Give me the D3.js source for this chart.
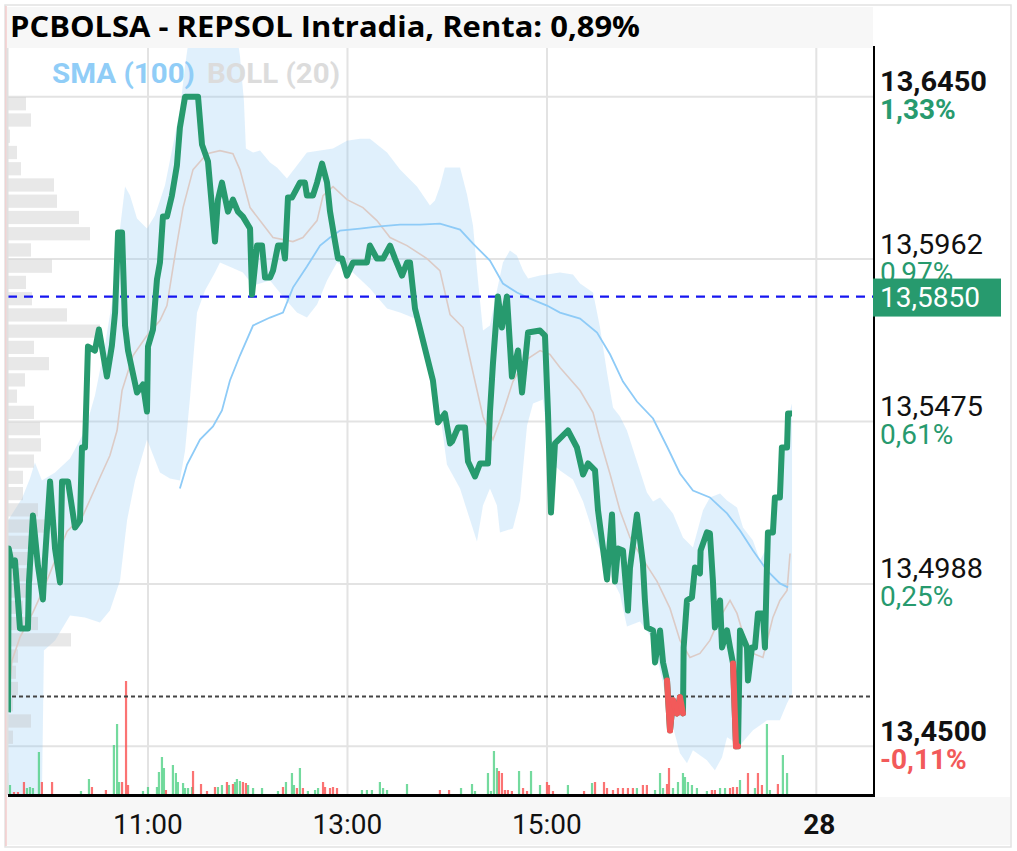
<!DOCTYPE html>
<html><head><meta charset="utf-8">
<script src="https://cdn.jsdelivr.net/npm/d3@7"></script>
<style>body{margin:0;background:#fff}svg{display:block}</style>
</head><body><svg id="c" width="1017" height="851"></svg>
<script>
// ---------- DATA ----------
const title = "PCBOLSA - REPSOL Intradia, Renta: 0,89%";
const prevClose = 13.465;
const markPrice = 13.585;
const markLabel = "13,5850";
const priceTicks = [13.645, 13.59625, 13.5475, 13.49875, 13.45];
const priceTickLabels = ["13,6450", "13,5962", "13,5475", "13,4988", "13,4500"];
const pctTickLabels = ["1,33%", "0,97%", "0,61%", "0,25%", "-0,11%"];
const pctTickUp = [true, true, true, true, false];
const boldTicks = [true, false, false, false, true];
// time in minutes after 09:00
const timeTicks = [120, 240, 360, 522];
const timeTickLabels = ["11:00", "13:00", "15:00", "28"];
const boldTimeTicks = [false, false, false, true];
const legendSMA = "SMA (100)";
const legendBOLL = "BOLL (20)";

// price line [minute, price]
const price = [
[35.8,13.4602],[36.2,13.5094],[38.2,13.5043],[40,13.5058],[41.8,13.4938],[43,13.4854],[47.8,13.4854],[48.4,13.4992],
[50.8,13.5193],[53.8,13.5043],[56.8,13.4941],[58,13.5058],[61.1,13.5295],[64.1,13.5094],[67.1,13.4992],[68.3,13.5295],
[71.9,13.5295],[76.1,13.5157],[79.1,13.5178],[80.3,13.5397],[82.1,13.5397],[83.9,13.57],[88.1,13.5688],[90.5,13.5751],
[95.3,13.561],[98.3,13.5703],[100.2,13.5802],[102,13.6042],[104.4,13.6042],[106.2,13.5763],[108,13.5688],[113.4,13.5562],
[117,13.5586],[119.4,13.5505],[120,13.57],[123,13.5751],[125.4,13.5901],[127.2,13.5952],[129,13.609],[131.4,13.609],
[134.4,13.6153],[137.4,13.6243],[139.2,13.6357],[142.3,13.645],[150.1,13.645],[152.5,13.6306],[156.1,13.6255],[160.3,13.6015],
[162.1,13.6141],[164.5,13.6192],[168.1,13.6105],[171.1,13.6141],[174.1,13.6105],[177.1,13.609],[181.4,13.6054],[182.6,13.5856],
[185.6,13.6003],[188.6,13.6003],[190.4,13.5907],[193.4,13.5907],[195.2,13.5928],[198.2,13.6003],[201.2,13.6003],[202.4,13.5964],
[204.2,13.6147],[206.6,13.6147],[211.4,13.6192],[214.4,13.6192],[215.6,13.6153],[219.2,13.6153],[221.7,13.6192],[224.7,13.6249],
[227.7,13.6192],[229.5,13.6105],[232.5,13.6015],[234.3,13.5964],[236.7,13.5964],[239.7,13.5913],[243.3,13.5952],[251.7,13.5952],
[253.5,13.6003],[257.7,13.5964],[261.4,13.5964],[265.6,13.6003],[268.6,13.5964],[272.8,13.5913],[275.8,13.5952],[277.6,13.5952],
[280.6,13.5814],[291.4,13.5598],[294.4,13.5472],[298.6,13.5499],[301.7,13.5409],[302.9,13.5415],[306.5,13.5457],[310.7,13.5457],
[312.5,13.5355],[316.7,13.531],[319.7,13.5349],[324.5,13.5349],[325.7,13.5502],[327.5,13.5649],[330.5,13.585],[332.9,13.5757],
[335.9,13.585],[338.9,13.561],[342.6,13.5688],[345,13.5562],[348.6,13.5742],[355.8,13.5748],[358.8,13.5733],[360.6,13.5502],
[362.4,13.5202],[364.8,13.5409],[372.6,13.5448],[378,13.5397],[381.7,13.5316],[384.7,13.5349],[388.9,13.5328],[390.7,13.5208],
[396.1,13.5001],[399.1,13.5196],[400.9,13.4995],[402.7,13.5094],[405.7,13.5088],[408.7,13.4908],[409.9,13.5034],[414.1,13.5196],
[417.7,13.5049],[418.9,13.4938],[420.1,13.4857],[423.8,13.4848],[425,13.4752],[428,13.4848],[429.8,13.4752],[432.2,13.4698],
[434,13.4548],[435.8,13.4638],[438.2,13.4599],[440,13.4647],[441.8,13.4599],[442.2,13.4797],[444.2,13.4938],[447.2,13.4947],
[449,13.5037],[452,13.5019],[452.4,13.5088],[456.2,13.5142],[458,13.5139],[459.8,13.4998],[461,13.4857],[464.1,13.4938],
[465.3,13.4797],[468.3,13.4848],[470.1,13.4797],[471.9,13.4749],[473.7,13.45],[474.9,13.45],[476.1,13.4848],[480.3,13.4797],
[480.9,13.4698],[483.3,13.4797],[485.1,13.4797],[486.9,13.4899],[489.9,13.4899],[491.1,13.4797],[492.3,13.5037],[492.9,13.5142],
[495.9,13.5142],[497.1,13.5247],[500.1,13.5247],[501.3,13.5397],[504.4,13.5397],[505,13.5499],[507.4,13.5499]
];

// Bollinger (20) upper / lower / middle [minute, price]
const bollUpper = [
[35.8,13.5178],[44.2,13.5244],[49,13.5304],[52,13.5352],[56.2,13.5298],[64.1,13.5322],[73.1,13.5364],[82.1,13.5448],
[88.1,13.5553],[94.1,13.5703],[98.9,13.585],[103.2,13.6054],[106.2,13.618],[109.2,13.6153],[113.4,13.6084],[119.4,13.6054],
[124.2,13.6093],[130.2,13.6183],[134.4,13.6288],[139.2,13.6408],[142.3,13.6543],[145.3,13.6648],[151.3,13.6678],[172.3,13.6678],
[175.3,13.6573],[177.7,13.6438],[178.9,13.6294],[183.2,13.6282],[187.4,13.6288],[193.4,13.6252],[197.6,13.6237],[203.6,13.6204],
[209.6,13.6243],[215.6,13.6282],[223.5,13.6288],[231.3,13.6294],[239.7,13.6318],[247.5,13.6324],[253.5,13.6324],[263.8,13.6282],
[271.6,13.6231],[281.8,13.618],[289.6,13.6123],[292.6,13.6138],[295.6,13.618],[298.6,13.6237],[307.7,13.6237],[311.9,13.6156],
[315.5,13.6063],[318.5,13.5898],[321.5,13.5748],[325.7,13.5763],[329.9,13.5868],[333.5,13.5952],[337.7,13.5988],[341.9,13.5973],
[345.6,13.5928],[348.6,13.5904],[355.8,13.5913],[367.8,13.5922],[375.6,13.5916],[379.9,13.5889],[387.7,13.5862],[391.9,13.5757],
[396.1,13.5622],[399.7,13.5517],[403.9,13.549],[408.1,13.5448],[414.1,13.5355],[420.1,13.5262],[423.8,13.5235],[428,13.5247],
[435.8,13.5199],[441.8,13.5127],[447.8,13.5097],[453.8,13.5208],[458,13.5247],[464.1,13.5259],[468.3,13.5238],[474.3,13.5217],
[477.9,13.5157],[483.9,13.5118],[488.1,13.5058],[492.3,13.5097],[495.9,13.5157],[500.1,13.5307],[504.4,13.5478],[507.4,13.5529]
];
const bollLower = [
[35.8,13.4038],[53.8,13.4098],[55.6,13.4128],[57.4,13.4788],[64.1,13.4818],[73.1,13.4893],[82.1,13.4887],[91.1,13.4872],
[97.1,13.4908],[103.2,13.4998],[107.4,13.5178],[112.2,13.5298],[119.4,13.5421],[127.2,13.5322],[133.2,13.5304],[139.2,13.5298],
[142.3,13.5388],[145.3,13.5547],[149.5,13.5802],[154.3,13.5868],[160.3,13.5922],[163.3,13.5952],[167.5,13.5943],[177.1,13.5922],
[183.2,13.5883],[193.4,13.5898],[201.2,13.585],[209.6,13.5802],[215.6,13.5787],[221.7,13.5826],[227.7,13.5898],[233.7,13.5952],
[243.3,13.5922],[253.5,13.5874],[263.8,13.5814],[271.6,13.5802],[280.6,13.5784],[286.6,13.5718],[293.8,13.5574],[299.8,13.5346],
[307.7,13.5274],[311.9,13.5208],[317.9,13.5115],[321.5,13.5223],[325.7,13.5274],[329.9,13.5223],[331.7,13.5142],[339.5,13.5154],
[343.8,13.5238],[348,13.5463],[351.6,13.5529],[357.6,13.5541],[361.8,13.5355],[367.8,13.5328],[375.6,13.5301],[381.7,13.5235],
[387.7,13.5142],[396.1,13.5034],[403.9,13.4956],[408.1,13.486],[415.9,13.4875],[423.8,13.4821],[432.2,13.4635],[435.8,13.4557],
[440,13.4479],[444.2,13.4449],[447.8,13.4488],[456.2,13.4458],[461,13.4428],[465.3,13.4467],[468.3,13.4527],[476.1,13.4503],
[483.9,13.4548],[492.3,13.4578],[500.1,13.4578],[504.4,13.4629],[507.4,13.4659]
];
const bollMiddle = [
[35.8,13.4638],[38.2,13.4758],[43,13.4827],[50.8,13.4902],[56.8,13.4968],[64.1,13.5058],[71.3,13.5145],[80.9,13.5193],
[91.1,13.5307],[97.1,13.5373],[101.4,13.5448],[104.4,13.5568],[111,13.5673],[119.4,13.5733],[127.2,13.5778],[131.4,13.5823],
[136.2,13.5973],[141.1,13.6117],[147.1,13.6231],[155.5,13.6279],[163.3,13.6288],[171.1,13.6279],[175.3,13.6231],[181.4,13.6117],
[189.2,13.6066],[195.2,13.6027],[207.2,13.6015],[213.2,13.6027],[221.7,13.6078],[225.3,13.6153],[231.3,13.618],[239.7,13.6141],
[249.3,13.6117],[257.7,13.6078],[265.6,13.6027],[275.8,13.6003],[287.8,13.5964],[295.6,13.5928],[301.7,13.5796],[309.5,13.5757],
[315.5,13.5622],[321.5,13.549],[327.5,13.5421],[333.5,13.5502],[339.5,13.5595],[346.8,13.5658],[355.8,13.5688],[361.8,13.5676],
[367.8,13.5637],[379.9,13.5568],[387.7,13.5502],[391.9,13.5421],[398,13.5316],[403.9,13.5208],[409.9,13.5127],[417.7,13.5061],
[426.2,13.4995],[434,13.4914],[440,13.4818],[446,13.4767],[452,13.4779],[458,13.4818],[464.1,13.4887],[470.1,13.4938],
[474.3,13.4899],[477.9,13.4839],[483.9,13.4779],[489.9,13.4767],[495.9,13.4887],[500.1,13.4938],[504.4,13.4968],[506.2,13.5079]
];
// SMA (100)
const sma100 = [
[139.2,13.5274],[143.5,13.5346],[151.3,13.5421],[159.1,13.546],[164.5,13.5508],[169.3,13.5598],[175.3,13.5673],[183.2,13.5763],
[193.4,13.5787],[201.2,13.5802],[207.2,13.5877],[215.6,13.594],[223.5,13.6003],[229.5,13.6027],[235.5,13.6048],[247.5,13.6054],
[257.7,13.606],[271.6,13.6066],[283.6,13.6066],[295.6,13.6069],[307.7,13.6051],[315.5,13.6009],[325.7,13.5958],[333.5,13.5889],
[341.9,13.5862],[349.8,13.5844],[360,13.5823],[367.8,13.5802],[379.9,13.5784],[390.1,13.5742],[398,13.5676],[405.7,13.5595],
[414.1,13.5535],[423.8,13.5484],[432.2,13.54],[440,13.5319],[447.8,13.5268],[458,13.5247],[468.3,13.5199],[476.1,13.5148],
[483.9,13.5088],[492.3,13.5028],[500.1,13.4989],[505,13.4977]
];

// volume [minute, volume] split by up / down ticks
const volumeUp = [
[35.2,22],[37,10],[47.2,7],[49,8],[50.8,7],[54.4,43],[79.7,4],[84.5,16],[99.5,50],[101.4,71],[102.6,13],[117,4],[120,8],
[125.4,8],[126.6,23],[128.4,38],[129.6,27],[135,30],[136.8,22],[138,13],[141.1,12],[142.3,7],[144.1,7],[146.5,8],[162.1,8],
[164.5,10],[168.7,10],[172.3,13],[173.5,16],[175.3,14],[180.2,10],[183.2,7],[188.6,7],[198.2,4],[203,13],[206.6,22],[207.8,10],
[211.4,27],[216.2,4],[220.5,5],[222.3,7],[248.7,5],[251.7,5],[254.7,5],[259.5,13],[261.4,7],[263.8,5],[275.8,11],[308.3,7],
[314.9,11],[316.7,4],[324.5,22],[326.3,4],[328.1,44],[329.9,27],[343.2,24],[350.4,24],[355.8,10],[372.6,10],[387.1,12],[414.1,7],
[425,5],[428,22],[429.8,7],[435.8,7],[438.8,13],[441.8,22],[443,18],[444.8,13],[447.2,10],[450.2,7],[456.2,4],[464.1,7],
[467.1,7],[476.1,15],[485.1,7],[492.3,71],[494.1,5],[501.9,40],[504.4,22]
];
const volumeDown = [
[39.4,3],[41.8,3],[45.4,13],[56.2,13],[62.3,13],[86.3,8],[94.7,5],[104.4,13],[106.8,114],[108,10],[130.8,5],[147.1,24],
[151.9,11],[155.5,4],[160.3,8],[167.5,13],[171.1,11],[177.1,13],[178.9,12],[201.2,8],[209.6,7],[213.2,7],[225.3,13],[226.5,8],
[229.5,7],[231.3,8],[233.7,7],[295.6,5],[301.1,5],[331.1,24],[332.9,22],[334.7,5],[336.5,5],[338.9,4],[345.6,7],[348,4],
[360,13],[361.2,10],[363.6,4],[382.3,4],[388.9,13],[394.3,13],[396.1,7],[399.7,5],[402.7,7],[405.7,7],[408.7,7],[411.7,7],
[417.7,10],[420.1,10],[432.2,11],[433.4,27],[459.2,5],[461,5],[470.1,7],[471.9,8],[474.3,8],[480.9,22],[486.9,22],[489.3,10],
[498.9,11]
];

// volume profile by price bin, from the top (13.645) downward
const profileTop = 13.645;
const profileStep = 0.004875;
const profileVolume = [18,23,2,9,13,46,49,71,82,23,44,18,24,59,92,26,41,17,9,26,32,33,26,15,15,30,37,30,20,25,20,15,30,63,10,8,10,5,23,5];

// ---------- CHART ----------
const plot = {l: 8, r: 873, t: 48, b: 795};
const svg = d3.select("#c");
const x = d3.scaleLinear().domain([35.8, 556.1]).range([plot.l, plot.r]);
const y = d3.scaleLinear().domain([13.4354, 13.6596]).range([plot.b, plot.t]);
const yVol = d3.scaleLinear().domain([0, 120]).range([plot.b, plot.b - 120]);
const wProf = d3.scaleLinear().domain([0, 92]).range([0, 92]);

const GREEN = "#279a6e", RED = "#f25a5a";

// frame & backgrounds
svg.append("rect").attr("x", 5).attr("y", 5).attr("width", 1006).attr("height", 842)
  .attr("fill", "#fff").attr("stroke", "#e2e2e2").attr("stroke-width", 1.5);
svg.append("line").attr("x1", 6).attr("x2", 6).attr("y1", 6).attr("y2", 846)
  .attr("stroke", "#f2caca").attr("stroke-width", 1.5);
svg.append("rect").attr("x", 7).attr("y", 7).attr("width", plot.r - 7).attr("height", plot.t - 7).attr("fill", "#f7f7f7");
svg.append("rect").attr("x", 7).attr("y", plot.b + 2).attr("width", 1003).attr("height", 48).attr("fill", "#f7f7f7");

svg.append("defs").append("clipPath").attr("id", "clip").append("rect")
  .attr("x", plot.l).attr("y", plot.t).attr("width", plot.r - plot.l).attr("height", plot.b - plot.t);
const g = svg.append("g").attr("clip-path", "url(#clip)");

// left plot border
svg.append("line").attr("x1", 7.5).attr("x2", 7.5).attr("y1", plot.t).attr("y2", plot.b)
  .attr("stroke", "#e0e0e0").attr("stroke-width", 2);

// grid
g.selectAll(".hg").data(priceTicks).join("line")
  .attr("x1", plot.l).attr("x2", plot.r).attr("y1", d => y(d)).attr("y2", d => y(d))
  .attr("stroke", "#e3e3e3").attr("stroke-width", 2);
g.selectAll(".vg").data(timeTicks).join("line")
  .attr("x1", d => x(d)).attr("x2", d => x(d)).attr("y1", plot.t).attr("y2", plot.b)
  .attr("stroke", "#e3e3e3").attr("stroke-width", 2);

// bollinger band fill
const ln = d3.line().x(d => x(d[0])).y(d => y(d[1]));
g.append("path").attr("d", ln(bollUpper.concat(bollLower.slice().reverse())) + "Z")
  .attr("fill", "rgb(140,200,245)").attr("fill-opacity", 0.27);

// volume profile
g.selectAll(".prof").data(profileVolume).join("rect")
  .attr("x", plot.l)
  .attr("y", (d, i) => y(profileTop - i * profileStep) + 0.5)
  .attr("width", d => wProf(d))
  .attr("height", (d, i) => y(profileTop - (i + 1) * profileStep) - y(profileTop - i * profileStep) - 3)
  .attr("fill", "rgb(190,190,190)").attr("fill-opacity", 0.36);

// bollinger middle
g.append("path").attr("d", ln(bollMiddle)).attr("fill", "none")
  .attr("stroke", "#dccbc6").attr("stroke-width", 1.6);
// SMA
g.append("path").attr("d", ln(sma100)).attr("fill", "none")
  .attr("stroke", "#8ecbf7").attr("stroke-width", 1.8);

// volume bars
g.selectAll(".vu").data(volumeUp).join("rect")
  .attr("x", d => x(d[0]) - 1.1).attr("width", 2.2)
  .attr("y", d => yVol(d[1])).attr("height", d => plot.b - yVol(d[1]))
  .attr("fill", "rgb(70,205,125)").attr("fill-opacity", 0.75);
g.selectAll(".vd").data(volumeDown).join("rect")
  .attr("x", d => x(d[0]) - 1.1).attr("width", 2.2)
  .attr("y", d => yVol(d[1])).attr("height", d => plot.b - yVol(d[1]))
  .attr("fill", "rgb(250,80,80)").attr("fill-opacity", 0.8);

// previous close dotted line
g.append("line").attr("x1", plot.l + 4).attr("x2", plot.r).attr("y1", y(prevClose)).attr("y2", y(prevClose))
  .attr("stroke", "#444").attr("stroke-width", 2).attr("stroke-dasharray", "4,3");
// marker dashed line
g.append("line").attr("x1", plot.l).attr("x2", plot.r).attr("y1", y(markPrice)).attr("y2", y(markPrice))
  .attr("stroke", "#1616f0").attr("stroke-width", 2.2).attr("stroke-dasharray", "9,7");

// price line
g.append("path").attr("d", ln(price)).attr("fill", "none")
  .attr("stroke", GREEN).attr("stroke-width", 6).attr("stroke-linejoin", "round");
const redSegs = [];
for (let i = 1; i < price.length; i++) if (price[i][1] < prevClose) redSegs.push([price[i - 1], price[i]]);
g.selectAll(".red").data(redSegs).join("path").attr("d", d => ln(d)).attr("fill", "none")
  .attr("stroke", RED).attr("stroke-width", 6).attr("stroke-linecap", "round");

// legend
svg.append("text").attr("x", 52).attr("y", 83)
  .attr("font-family", "Roboto").attr("font-weight", "bold").attr("font-size", 28)
  .attr("textLength", 143).attr("lengthAdjust", "spacingAndGlyphs")
  .attr("fill", "#90cdf7").text(legendSMA);
svg.append("text").attr("x", 207).attr("y", 83)
  .attr("font-family", "Roboto").attr("font-weight", "bold").attr("font-size", 28)
  .attr("textLength", 133).attr("lengthAdjust", "spacingAndGlyphs")
  .attr("fill", "#dcdcdc").text(legendBOLL);

// axes lines
svg.append("line").attr("x1", plot.r + 1).attr("x2", plot.r + 1).attr("y1", 46).attr("y2", plot.b + 2)
  .attr("stroke", "#000").attr("stroke-width", 2);
svg.append("line").attr("x1", plot.l).attr("x2", plot.r + 2).attr("y1", plot.b + 0.5).attr("y2", plot.b + 0.5)
  .attr("stroke", "#000").attr("stroke-width", 3);

// right labels
const rl = svg.append("g").attr("font-family", "Roboto").attr("font-size", 28);
rl.selectAll(".pl").data(priceTicks).join("text")
  .attr("x", 880).attr("y", d => y(d) - 5.5)
  .attr("font-weight", (d, i) => boldTicks[i] ? "bold" : "normal")
  .attr("textLength", (d, i) => boldTicks[i] ? 107 : 103).attr("lengthAdjust", "spacingAndGlyphs")
  .attr("fill", "#111").text((d, i) => priceTickLabels[i]);
rl.selectAll(".pp").data(priceTicks).join("text")
  .attr("x", 880).attr("y", d => y(d) + 22.5)
  .attr("font-weight", (d, i) => boldTicks[i] ? "bold" : "normal")
  .attr("fill", (d, i) => pctTickUp[i] ? GREEN : RED).text((d, i) => pctTickLabels[i]);

// marker box
svg.append("rect").attr("x", plot.r).attr("y", y(markPrice) - 18).attr("width", 128).attr("height", 38).attr("fill", GREEN);
svg.append("text").attr("x", 880).attr("y", y(markPrice) + 10.5)
  .attr("font-family", "Roboto").attr("font-size", 28).attr("fill", "#fff").text(markLabel);

// bottom labels
svg.selectAll(".tl").data(timeTicks).join("text")
  .attr("x", (d, i) => x(d) + (boldTimeTicks[i] ? 3 : 0)).attr("y", 834)
  .attr("text-anchor", "middle").attr("font-family", "Roboto").attr("font-size", 28)
  .attr("font-weight", (d, i) => boldTimeTicks[i] ? "bold" : "normal")
  .attr("fill", "#111").text((d, i) => timeTickLabels[i]);

// title
svg.append("text").attr("x", 10).attr("y", 37)
  .attr("font-family", "Open Sans").attr("font-weight", "bold").attr("font-size", 28)
  .attr("textLength", 630).attr("lengthAdjust", "spacingAndGlyphs")
  .attr("fill", "#000").text(title);
</script></body></html>
